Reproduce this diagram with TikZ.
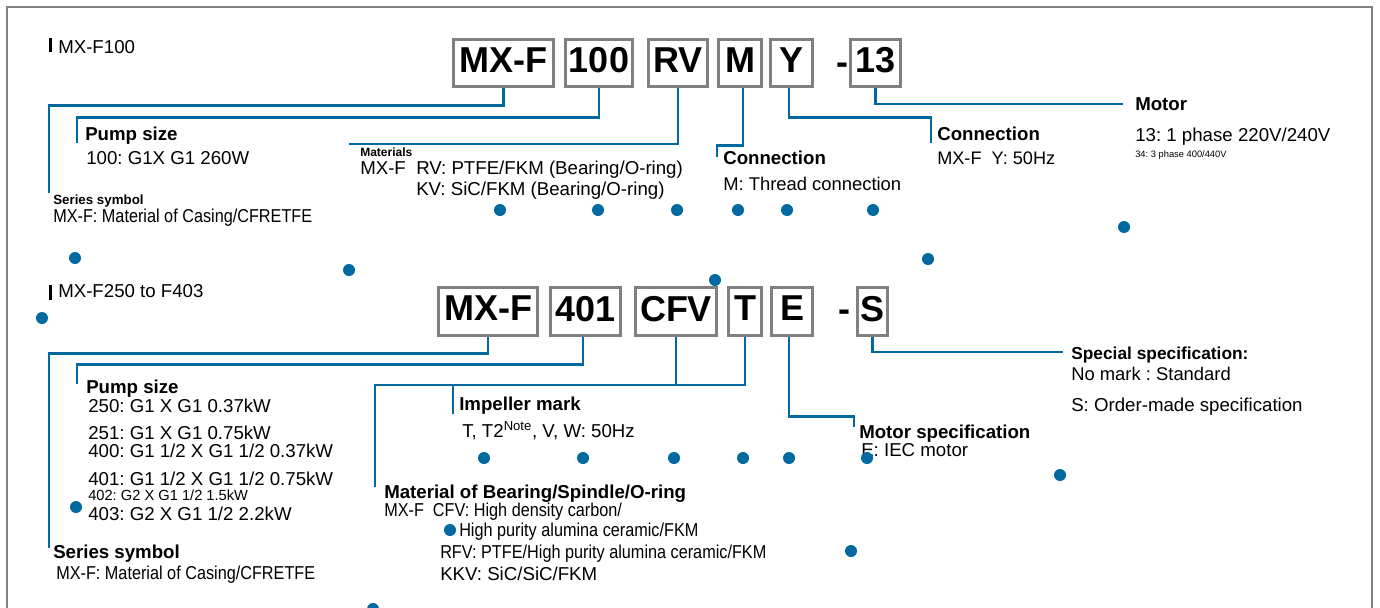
\documentclass[tikz,border=0pt]{standalone}
\usepackage{fontspec}
\setmainfont{Liberation Sans}
\newfontfamily\condfont[FakeStretch=0.87]{Liberation Sans}
\usetikzlibrary{positioning}
\definecolor{leadblue}{RGB}{0,105,160}
\definecolor{boxgray}{RGB}{128,128,128}
\tikzset{
  codebox/.style={draw=boxgray,line width=2.2pt,inner sep=0pt,text depth=4.5pt,font=\bfseries\fontsize{27}{30}\selectfont},
  lead/.style={draw=leadblue,line width=2.2pt},
  lbl/.style={anchor=base west,inner sep=0pt,font=\fontsize{14}{16}\selectfont},
  hd/.style={lbl,font=\bfseries\fontsize{14}{16}\selectfont},
  cond/.style={lbl,font=\condfont\fontsize{14}{16}\selectfont},
  blob/.style={circle,fill=leadblue,inner sep=0pt,minimum size=9pt}
}
\frenchspacing
\begin{document}
\begin{tikzpicture}[x=0.75pt,y=-0.75pt]
\useasboundingbox (0,0) rectangle (1380,607);
\draw[boxgray,line width=2.2pt] (7,620) -- (7,7) -- (1372,7) -- (1372,620);
% MX-F100
\fill (48.5,38) rectangle (51.5,52);
\node[lbl] (ttl) at (58,53) {MX-F100};
\node[codebox,minimum width=75pt,minimum height=35.25pt] (mxf) at (503.5,63) {MX-F};
\node[codebox,minimum width=50.25pt,minimum height=35.25pt] (psz) at (599,63) {100};
\node[codebox,minimum width=44.25pt,minimum height=35.25pt] (mat) at (678,63) {RV};
\node[codebox,minimum width=32.25pt,minimum height=35.25pt] (cnm) at (740,63) {M};
\node[codebox,minimum width=31.5pt,minimum height=35.25pt] (cny) at (791.5,63) {Y};
\node[anchor=base,inner sep=0pt,font=\bfseries\fontsize{27}{30}\selectfont] (dsh) at (842,74) {-};
\node[codebox,minimum width=37.5pt,minimum height=35.25pt] (mot) at (875.5,63) {13};
\coordinate (serT) at (49,193);
\coordinate (pszT) at (77,143);
\coordinate (matT) at (349,144);
\coordinate (cnmT) at (717,157);
\coordinate (cnyT) at (931,143);
\coordinate (motT) at (1123,104);
\draw[lead] (mxf.south) -- ++(0,17.5) -| (serT);
\draw[lead] (psz.south) -- ++(0,29.5) -| (pszT);
\draw[lead] (mat.south) |- (matT);
\draw[lead] ([xshift=2.25pt]cnm.south) -- ++(0,57.5) -| (cnmT);
\draw[lead] ([xshift=-1.9pt]cny.south) -- ++(0,29.5) -| (cnyT);
\draw[lead] (mot.south) |- (motT);
\node[hd,font=\bfseries\fontsize{10}{12}\selectfont] (serH) at (53,204) {Series symbol};
\node[cond] (serV) at (53,222) {MX-F: Material of Casing/CFRETFE};
\node[hd] (pszH) at (85,140) {Pump size};
\node[lbl] (pszV) at (86,164) {100: G1X G1 260W};
\node[hd,font=\bfseries\fontsize{9}{11}\selectfont] (matH) at (360,156) {Materials};
\node[lbl] (matS) at (360,174) {MX-F};
\node[lbl] (matV1) at (416,174) {RV: PTFE/FKM (Bearing/O-ring)};
\node[lbl] (matV2) at (416,195) {KV: SiC/FKM (Bearing/O-ring)};
\node[hd] (cnmH) at (723,164) {Connection};
\node[lbl,font=\fontsize{13.8}{16}\selectfont] (cnmV) at (723,190) {M: Thread connection};
\node[hd] (cnyH) at (937,140) {Connection};
\node[lbl,font=\fontsize{13.6}{16}\selectfont] (cnyV) at (937,164) {MX-F\ \ Y: 50Hz};
\node[hd] (motH) at (1135,110) {Motor};
\node[lbl] (motV1) at (1135,141) {13: 1 phase 220V/240V};
\node[lbl,font=\fontsize{7}{8}\selectfont] (motV2) at (1135,157) {34: 3 phase 400/440V};
% MX-F250 to F403
\fill (48.5,285) rectangle (51.5,300);
\node[lbl] (ttlB) at (58,297) {MX-F250 to F403};
\node[codebox,minimum width=74.25pt,minimum height=36pt] (mxfB) at (488,311.5) {MX-F};
\node[codebox,minimum width=52.5pt,minimum height=36pt] (pszB) at (585.5,311.5) {401};
\node[codebox,minimum width=60.75pt,minimum height=36pt] (matB) at (676,311.5) {CFV};
\node[codebox,minimum width=24.75pt,minimum height=36pt] (imp) at (745,311.5) {T};
\node[codebox,minimum width=30.75pt,minimum height=36pt] (msp) at (792,311.5) {E};
\node[anchor=base,inner sep=0pt,font=\bfseries\fontsize{27}{30}\selectfont] (dshB) at (844,321) {-};
\node[codebox,minimum width=22.5pt,minimum height=36pt] (spc) at (872.5,311.5) {S};
\coordinate (serBT) at (49,548);
\coordinate (pszBT) at (77,384);
\coordinate (impJ) at (453,385);
\coordinate (impT) at (453,414);
\coordinate (matBT) at (375,487);
\coordinate (mspT) at (854,427);
\coordinate (spcT) at (1063,352);
\draw[lead] (mxfB.south) -- ++(0,16.5) -| (serBT);
\draw[lead] ([xshift=-1.9pt]pszB.south) -- ++(0,27.5) -| (pszBT);
\draw[lead] (matB.south) -- (matB.south |- impJ);
\draw[lead] (imp.south) |- (impJ) -| (matBT);
\draw[lead] (impJ) -- (impT);
\draw[lead] ([xshift=-2.25pt]msp.south) -- ++(0,79.5) -| (mspT);
\draw[lead] (spc.south) |- (spcT);
\node[hd] (pszBH) at (86,393) {Pump size};
\node[lbl] (pszB1) at (88,412) {250: G1 X G1 0.37kW};
\node[lbl] (pszB2) at (88,439) {251: G1 X G1 0.75kW};
\node[lbl] (pszB3) at (88,457) {400: G1 1/2 X G1 1/2 0.37kW};
\node[lbl] (pszB4) at (88,485) {401: G1 1/2 X G1 1/2 0.75kW};
\node[lbl,font=\fontsize{11}{13}\selectfont] (pszB5) at (88,500) {402: G2 X G1 1/2 1.5kW};
\node[lbl] (pszB6) at (88,520) {403: G2 X G1 1/2 2.2kW};
\node[hd] (serBH) at (53,558) {Series symbol};
\node[cond] (serBV) at (56,579) {MX-F: Material of Casing/CFRETFE};
\node[hd] (impH) at (459,410) {Impeller mark};
\node[lbl] (impV) at (462,437) {T, T2\textsuperscript{Note}, V, W: 50Hz};
\node[hd] (matBH) at (384,498) {Material of Bearing/Spindle/O-ring};
\node[cond] (matB1) at (384,516) {MX-F\ \ CFV: High density carbon/};
\node[cond] (matB2) at (459,536) {High purity alumina ceramic/FKM};
\node[cond] (matB3) at (440,558) {RFV: PTFE/High purity alumina ceramic/FKM};
\node[lbl] (matB4) at (440,580) {KKV: SiC/SiC/FKM};
\node[hd] (mspH) at (859,438) {Motor specification};
\node[lbl] (mspV) at (861,456) {E: IEC motor};
\node[hd,font=\bfseries\fontsize{13}{15}\selectfont] (spcH) at (1071,359) {Special specification:};
\node[lbl,font=\fontsize{13.8}{15}\selectfont] (spcV1) at (1071,380) {No mark : Standard};
\node[lbl] (spcV2) at (1071,411) {S: Order-made specification};
% stray dots
\foreach \x/\y [count=\i] in {500/210,598/210,677/210,738/210,787/210,873/210,1124/227,928/259,75/258,349/270,715/280,42/318,
  484/458,583/458,674/458,743/458,789/458,867/458,1060/475,851/551,76/507,450/530,373/609}
  \node[blob] (dot\i) at (\x,\y) {};
\end{tikzpicture}
\end{document}
